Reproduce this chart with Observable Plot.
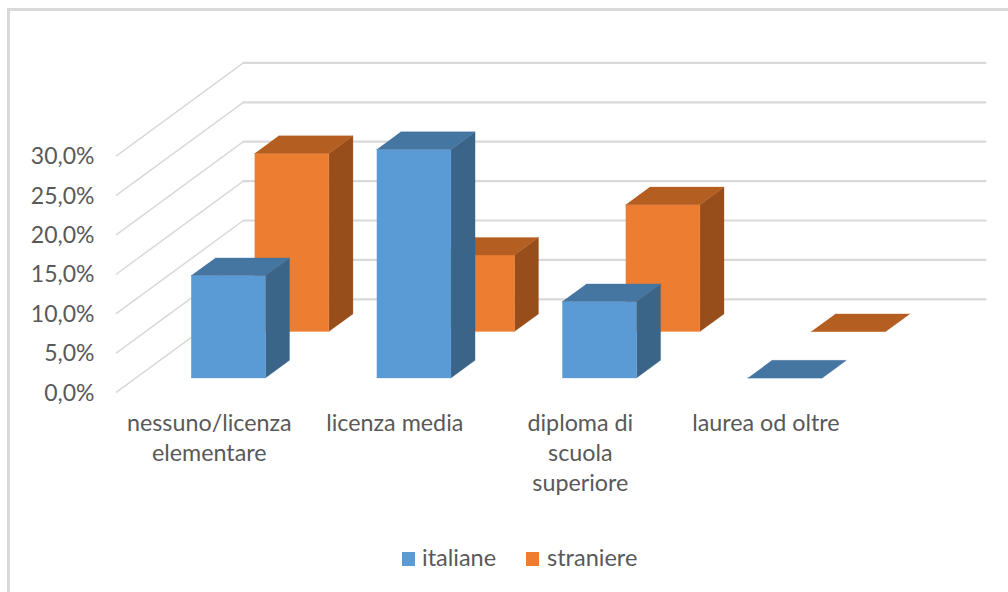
<!DOCTYPE html>
<html lang="it">
<head>
<meta charset="utf-8">
<script src="https://cdn.jsdelivr.net/npm/d3@7"></script>
<script src="https://cdn.jsdelivr.net/npm/@observablehq/plot@0.6"></script>
<style>
html,body{margin:0;padding:0;background:#fff;}
#chart{position:relative;width:1008px;height:592px;overflow:hidden;background:#fff;}
#frame{position:absolute;left:7px;top:8px;right:-4px;bottom:-4px;border:3px solid #d9d9d9;box-sizing:border-box;}
#chart svg{position:absolute;left:0;top:0;background:transparent;}
#legend{position:absolute;left:0;top:544px;width:1008px;height:28px;font:23.5px Lato,sans-serif;color:#595959;}
#legend span{position:absolute;top:0;line-height:26px;white-space:nowrap;}
#legend i{position:absolute;top:7.5px;width:13px;height:14px;}
</style>
</head>
<body>
<div id="chart"><div id="frame"></div></div>
<script>
const categories = ["nessuno/licenza\nelementare", "licenza media", "diploma di\nscuola\nsuperiore", "laurea od oltre"];
const italiane = [13.0, 29.0, 9.7, 0.0];
const straniere = [22.6, 9.7, 16.1, 0.0];
const ticks = [0, 5, 10, 15, 20, 25, 30];
const seriesNames = ["italiane", "straniere"];
const seriesColors = {italiane: ["#5b9bd5", "#4575a1", "#3a6589"], straniere: ["#ed7d31", "#b55e21", "#974e1b"]};

// oblique projection: depth t (0 front, 1 back) shifts a point along the floor
const shiftX = 0.6837, shiftY = 11.79, yMax = 41.75;
const rowDepth = {italiane: 0.153, straniere: 0.653};
const barDepth = 0.19, barWidth = 0.4;
const P = (c, v, t) => ({x: c + shiftX * t, y: v + shiftY * t});

const faces = [];
function addBar(name, i, v) {
  const t0 = rowDepth[name], t1 = t0 + barDepth;
  const a = i + 0.298, b = a + barWidth;
  const [front, top, side] = seriesColors[name];
  const add = (kind, color, pts) => pts.forEach(p => faces.push({id: `${name}${i}${kind}`, color, ...p}));
  add("s", side, [P(b, 0, t0), P(b, 0, t1), P(b, v, t1), P(b, v, t0)]);
  add("f", front, [P(a, 0, t0), P(b, 0, t0), P(b, v, t0), P(a, v, t0)]);
  add("t", top, [P(a, v, t0), P(b, v, t0), P(b, v, t1), P(a, v, t1)]);
}
straniere.forEach((v, i) => addBar("straniere", i, v));
italiane.forEach((v, i) => addBar("italiane", i, v));

const floorLines = ticks.flatMap(v => [{v, ...P(0, v, 0)}, {v, ...P(0, v, 1)}]);
const backLines = ticks.flatMap(v => [{v, ...P(0, v, 1)}, {v, ...P(categories.length, v, 1)}]);

const plot = Plot.plot({
  width: 1008,
  height: 592,
  marginLeft: 116,
  marginRight: 23,
  marginTop: 62.7,
  marginBottom: 200.3,
  x: {domain: [0, categories.length + shiftX], axis: null},
  y: {domain: [0, yMax], axis: null},
  color: {type: "identity"},
  style: {background: "transparent", overflow: "visible"},
  marks: [
    Plot.line(floorLines, {x: "x", y: "y", z: "v", stroke: "#d9d9d9", strokeWidth: 1.5}),
    Plot.line(backLines, {x: "x", y: "y", z: "v", stroke: "#d9d9d9", strokeWidth: 2.2}),
    Plot.line(faces, {x: "x", y: "y", z: "id", fill: "color", stroke: "color", strokeWidth: 0.3}),
    Plot.axisY(ticks, {
      anchor: "left", tickSize: 0, tickPadding: 22, label: null, dy: 1,
      tickFormat: v => v.toFixed(1).replace(".", ",") + "%",
      fontSize: 23, fontFamily: "Lato", fill: "#595959"
    }),
    Plot.text(categories, {
      x: (d, i) => i + 0.5, y: () => 0,
      text: d => d, dy: 17, lineAnchor: "top", lineHeight: 1.3,
      fontSize: 23.3, fontFamily: "Lato", fill: "#595959"
    })
  ]
});
const chart = document.getElementById("chart");
chart.appendChild(plot);

const legend = document.createElement("div");
legend.id = "legend";
const legendX = {italiane: [402, 422], straniere: [526, 547]};
seriesNames.forEach(name => {
  const sw = document.createElement("i");
  sw.style.left = legendX[name][0] + "px";
  sw.style.background = seriesColors[name][0];
  const s = document.createElement("span");
  s.style.left = legendX[name][1] + "px";
  s.textContent = name;
  legend.append(sw, s);
});
chart.appendChild(legend);
</script>
</body>
</html>
